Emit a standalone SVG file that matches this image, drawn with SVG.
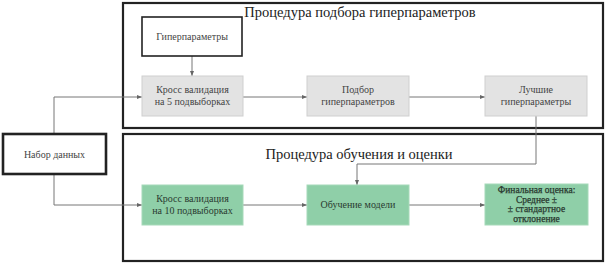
<svg xmlns="http://www.w3.org/2000/svg" width="605" height="264" viewBox="0 0 605 264">
<style>
.frame{fill:#fff;stroke:#222;stroke-width:2.2}
.white{fill:#fff;stroke:#222;stroke-width:1.6}
.thick{fill:#fff;stroke:#222;stroke-width:2.6}
.gray{fill:#e3e3e3;stroke:#cfcfcf;stroke-width:1}
.green{fill:#8fcfa8;stroke:#a6d9b9;stroke-width:1}
.t{font-family:"Liberation Serif",serif;font-size:10px;fill:#444;text-anchor:middle}
.tg{font-family:"Liberation Serif",serif;font-size:10px;fill:#2a3a30;text-anchor:middle}
.tb{font-family:"Liberation Serif",serif;font-size:9.5px;fill:#2a3a30;text-anchor:middle;stroke:#2a3a30;stroke-width:0.25}
.title{font-family:"Liberation Serif",serif;font-size:14.5px;fill:#222;text-anchor:middle}
.c{fill:none;stroke:#777;stroke-width:1}
</style>
<defs>
<marker id="ah" markerWidth="5" markerHeight="4" refX="5" refY="2" orient="auto" markerUnits="userSpaceOnUse">
<path d="M0,0 L5,2 L0,4 Z" fill="#666"/>
</marker>
</defs>
<g id="frame-tuning">
<rect class="frame" x="123" y="3" width="480" height="125"/>
<text class="title" x="360" y="17">Процедура подбора гиперпараметров</text>
</g>
<g id="frame-training">
<rect class="frame" x="123" y="134" width="480" height="127"/>
<text class="title" x="359" y="159">Процедура обучения и оценки</text>
</g>
<g id="connectors">
<path class="c" d="M192,56 V76" marker-end="url(#ah)"/>
<path class="c" d="M54,134 V97 H142" marker-end="url(#ah)"/>
<path class="c" d="M54,174 V205 H142" marker-end="url(#ah)"/>
<path class="c" d="M243,97 H307" marker-end="url(#ah)"/>
<path class="c" d="M409,97 H485" marker-end="url(#ah)"/>
<path class="c" d="M536,116 V164 H357 V185" marker-end="url(#ah)"/>
<path class="c" d="M243,205 H307" marker-end="url(#ah)"/>
<path class="c" d="M409,205 H485" marker-end="url(#ah)"/>
</g>
<g id="hyperparams">
<rect class="white" x="142" y="17" width="100" height="39"/>
<text class="t" x="192" y="40">Гиперпараметры</text>
</g>
<g id="cv5">
<rect class="gray" x="142" y="76" width="101" height="40"/>
<text class="t" x="192.5" y="93">Кросс валидация</text>
<text class="t" x="192.5" y="105">на 5 подвыборках</text>
</g>
<g id="tuning">
<rect class="gray" x="307" y="76" width="102" height="40"/>
<text class="t" x="358" y="93">Подбор</text>
<text class="t" x="358" y="105">гиперпараметров</text>
</g>
<g id="best">
<rect class="gray" x="485" y="76" width="102" height="40"/>
<text class="t" x="536" y="93">Лучшие</text>
<text class="t" x="536" y="105">гиперпараметры</text>
</g>
<g id="dataset">
<rect class="thick" x="3" y="134" width="103" height="40"/>
<text class="t" x="54.5" y="158">Набор данных</text>
</g>
<g id="cv10">
<rect class="green" x="142" y="185" width="101" height="40"/>
<text class="tg" x="192.5" y="202">Кросс валидация</text>
<text class="tg" x="192.5" y="214">на 10 подвыборках</text>
</g>
<g id="train">
<rect class="green" x="307" y="185" width="102" height="40"/>
<text class="tg" x="358" y="208">Обучение модели</text>
</g>
<g id="final">
<rect class="green" x="485" y="184" width="103" height="41"/>
<text class="tb" x="536.5" y="193">Финальная оценка:</text>
<text class="tb" x="536.5" y="202.5">Среднее ±</text>
<text class="tb" x="536.5" y="212">± стандартное</text>
<text class="tb" x="536.5" y="221.5">отклонение</text>
</g>
</svg>
